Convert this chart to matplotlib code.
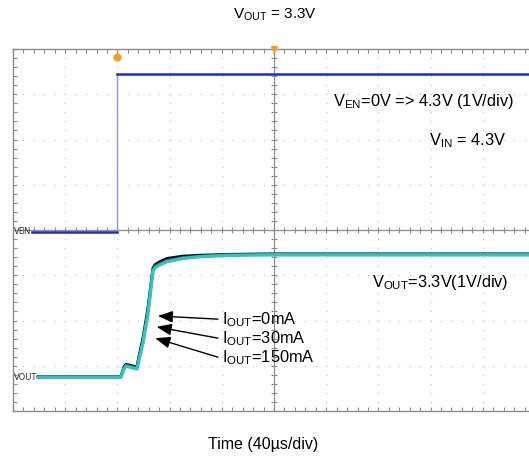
import numpy as np
import matplotlib
matplotlib.use("Agg")
import matplotlib.pyplot as plt

plt.rcParams['font.family'] = ['Liberation Sans', 'DejaVu Sans']
plt.rcParams['mathtext.fontset'] = 'custom'
plt.rcParams['mathtext.rm'] = 'Liberation Sans'
plt.rcParams['mathtext.it'] = 'Liberation Sans:italic'

# time in us (40 us/div), amplitude in scope divisions (1 V/div)
ven_t = [14.6, 80.0, 80.0, 400.0]
ven_v = [-0.04, -0.04, 3.45, 3.45]

vout_t = [19.2, 82.7, 85.0, 86.6, 95.0, 96.5, 99.6, 103.4, 107.3, 108.8,
          112.6, 118.0, 130.0, 143.0, 166.0, 197.0, 400.0]
vout_150 = [-3.25, -3.25, -3.07, -3.01, -3.07, -2.87, -2.50, -1.86, -0.90, -0.83,
            -0.77, -0.70, -0.63, -0.59, -0.56, -0.55, -0.55]
vout_30 = [-3.25, -3.25, -3.05, -2.99, -3.05, -2.84, -2.45, -1.80, -0.88, -0.80,
           -0.74, -0.67, -0.61, -0.58, -0.55, -0.54, -0.54]
vout_0 = [-3.24, -3.24, -3.03, -2.97, -3.03, -2.80, -2.40, -1.74, -0.84, -0.77,
          -0.70, -0.63, -0.58, -0.56, -0.54, -0.53, -0.53]

fig = plt.figure(figsize=(5.29, 4.59), dpi=100)
ax = fig.add_axes([13 / 529, 1 - 411 / 459, 522 / 529, 362 / 459])
ax.set_xlim(0, 400)
ax.set_ylim(-4, 4)

frame = '#8c8c8c'
for s in ax.spines.values():
    s.set_color(frame)
    s.set_linewidth(1.0)
ax.spines['right'].set_visible(False)

ax.set_xticks(np.arange(0, 401, 40))
ax.set_yticks(np.arange(-4, 4.1, 1))
ax.set_xticks(np.arange(0, 401, 8), minor=True)
ax.set_yticks(np.arange(-4, 4.01, 0.2), minor=True)
ax.tick_params(which='both', direction='in', color=frame, labelbottom=False,
               labelleft=False, top=True, right=False, length=3, width=0.8)

# dotted graticule
dot = '#c4c4c4'
for xg in np.arange(40, 400, 40):
    if xg == 200:
        continue
    yy = np.arange(-4, 4.01, 0.2)
    ax.plot(np.full_like(yy, xg), yy, ls='none', marker='s', ms=0.9, color=dot, mec='none')
for yg in np.arange(-3, 4, 1):
    if yg == 0:
        continue
    xx = np.arange(0, 400.1, 8)
    ax.plot(xx, np.full_like(xx, yg), ls='none', marker='s', ms=0.9, color=dot, mec='none')

# centre cross with ticks
ax.axhline(0, color=frame, lw=0.9, zorder=1)
ax.axvline(200, color=frame, lw=0.9, zorder=1)
xt = np.arange(0, 400.1, 8)
ax.plot(xt, np.zeros_like(xt), ls='none', marker='|', ms=4, mew=0.8, color=frame)
yt = np.arange(-4, 4.01, 0.2)
ax.plot(np.full_like(yt, 200), yt, ls='none', marker='_', ms=4, mew=0.8, color=frame)

# traces
ax.plot(ven_t[:2], ven_v[:2], color='#1a2ccc', lw=1.8, zorder=5)
ax.plot(ven_t[1:3], ven_v[1:3], color='#8b96e6', lw=1.0, zorder=4)
ax.plot(ven_t[2:], ven_v[2:], color='#1a2ccc', lw=1.8, zorder=5)

ax.plot(vout_t, vout_0, color='#111111', lw=2.2, zorder=5)
ax.plot(vout_t, vout_30, color='#4a4a4a', lw=2.0, zorder=6)
ax.plot(vout_t, vout_150, color='#2ec4c4', lw=2.4, zorder=7)

# channel labels
ax.text(1, ven_v[0], 'VEN', fontsize=6, color='#333333', va='center', ha='left',
        family='DejaVu Sans')
ax.text(1, vout_150[0], 'VOUT', fontsize=6, color='#333333', va='center', ha='left',
        family='DejaVu Sans')

# trigger markers
ax.plot([200], [4.0], marker='v', ms=5, color='#f0a020', clip_on=False, zorder=8)
ax.plot([80], [3.82], marker='o', ms=5, color='#f0a020', clip_on=False, zorder=8)

# annotations
fs = 11.8
ax.text(245, 2.85, r'$\mathregular{V_{EN}}$=0V => 4.3V (1V/div)', fontsize=fs,
        va='center', ha='left')
ax.text(319, 1.97, r'$\mathregular{V_{IN}}$ = 4.3V', fontsize=fs, va='center', ha='left')
ax.text(275, -1.17, r'$\mathregular{V_{OUT}}$=3.3V(1V/div)', fontsize=fs,
        va='center', ha='left')

labels = [r'$\mathregular{I_{OUT}}$=0mA', r'$\mathregular{I_{OUT}}$=30mA',
          r'$\mathregular{I_{OUT}}$=150mA']
text_y = [-1.99, -2.41, -2.83]
tips = [(111, -1.90), (110, -2.14), (109, -2.39)]
for lab, ty, tip in zip(labels, text_y, tips):
    ax.text(160, ty, lab, fontsize=fs, va='center', ha='left')
    ax.annotate('', xy=tip, xytext=(157, ty + 0.02),
                arrowprops=dict(arrowstyle='-|>,head_length=0.9,head_width=0.35',
                                color='black', lw=1.0, shrinkA=0, shrinkB=0))

fig.text(275 / 529, 1 - 15 / 459, r'$\mathregular{V_{OUT}}$ = 3.3V', fontsize=11,
         ha='center', va='center')
fig.text(263 / 529, 1 - 445 / 459, 'Time (40µs/div)', fontsize=11.5,
         ha='center', va='center')

fig.savefig('out.png', dpi=100)
